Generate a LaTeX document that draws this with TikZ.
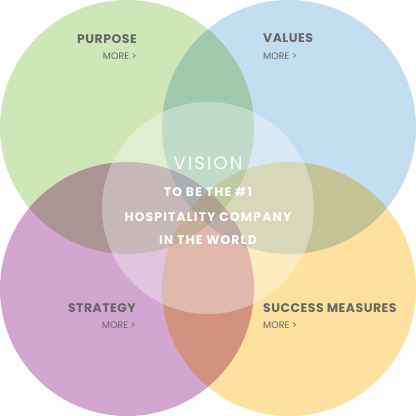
\documentclass[tikz,border=0pt]{standalone}
\usepackage{fontspec}
\setmainfont{Poppins}
\usepackage{xcolor}
\definecolor{vgreen}{RGB}{207,230,182}
\definecolor{vblue}{RGB}{196,222,241}
\definecolor{vpurple}{RGB}{210,166,208}
\definecolor{vyellow}{RGB}{254,225,158}
\definecolor{vtext}{RGB}{102,102,102}
\usepackage{tikz}
\usetikzlibrary{positioning}

\begin{document}
\begin{tikzpicture}[x=1bp, y=1bp,
  title/.style={font=\fontsize{12.5}{14}\selectfont\bfseries\addfontfeatures{LetterSpace=4}, text=vtext, inner sep=0pt},
  more/.style={font=\fontsize{9.5}{11}\selectfont, text=vtext, inner sep=0pt},
  vision/.style={font=\fontsize{12.5}{14}\selectfont\bfseries\addfontfeatures{LetterSpace=9}, text=white, inner sep=0pt}]
  \useasboundingbox (0,0) rectangle (416,416);

  % Four petals, multiplied where they meet
  \begin{scope}[blend group=multiply]
    \fill[vgreen]  (127,289) circle (127);
    \fill[vblue]   (289,289) circle (127);
    \fill[vpurple] (127,127) circle (127);
    \fill[vyellow] (289,127) circle (127);
  \end{scope}
  % Vision lens
  \fill[white, fill opacity=0.35] (208,208) circle (106);

  % --- Purpose ---
  \node[title, anchor=base east] (purpose) at (137,373) {PURPOSE};
  \node[more, anchor=base east] (purposemore) at (137,357) {MORE >};
  % --- Values ---
  \node[title, anchor=base west] (values) at (263,374) {VALUES};
  \node[more, anchor=base west] (valuesmore) at (263,357) {MORE >};
  % --- Strategy ---
  \node[title, anchor=base east] (strategy) at (136,104) {STRATEGY};
  \node[more, anchor=base east] (strategymore) at (136,88) {MORE >};
  % --- Success measures ---
  \node[title, anchor=base west] (success) at (263,104) {SUCCESS MEASURES};
  \node[more, anchor=base west] (successmore) at (263,88) {MORE >};

  % --- Vision statement ---
  \node[font=\fontsize{18}{20}\selectfont\addfontfeatures{LetterSpace=12}, text=white, inner sep=0pt, anchor=base] (vision) at (208,247) {VISION};
  \node[vision, anchor=base] (line1) at (208,220) {TO BE THE \#1};
  \node[vision, anchor=base] (line2) at (208,195) {HOSPITALITY COMPANY};
  \node[vision, anchor=base] (line3) at (208,172) {IN THE WORLD};
\end{tikzpicture}
\end{document}
